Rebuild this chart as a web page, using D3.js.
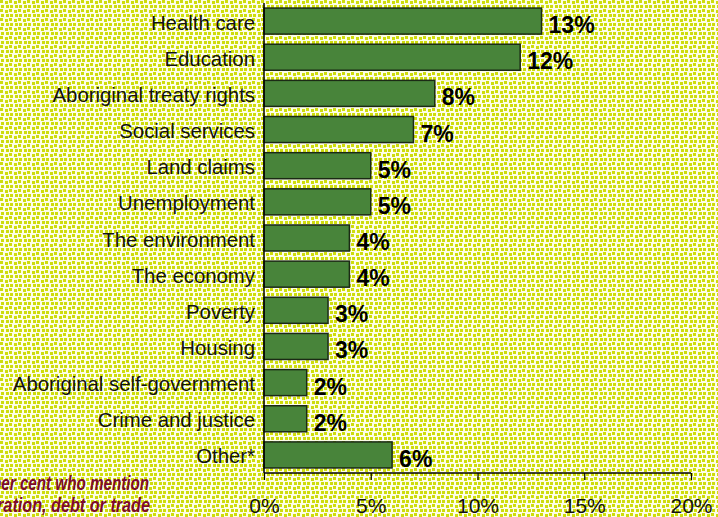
<!DOCTYPE html>
<html>
<head>
<meta charset="utf-8">
<script src="https://cdn.jsdelivr.net/npm/d3@7/dist/d3.min.js"></script>
<style>
  html, body { margin: 0; padding: 0; background: #fff; }
  svg { display: block; }
</style>
</head>
<body>
<div id="chart"></div>
<script>
// Most important issues (per cent mentioning)
const categories = [
  "Health care", "Education", "Aboriginal treaty rights", "Social services",
  "Land claims", "Unemployment", "The environment", "The economy",
  "Poverty", "Housing", "Aboriginal self-government", "Crime and justice", "Other*"
];
const values = [13, 12, 8, 7, 5, 5, 4, 4, 3, 3, 2, 2, 6];
const tickValues = [0, 5, 10, 15, 20];
const footnoteLines = [
  "* Includes per cent who mention",
  "the deficit, immigration, debt or trade"
];

const W = 718, H = 517;
const svg = d3.select("#chart").append("svg")
  .attr("width", W).attr("height", H);

// speckled paper background
const defs = svg.append("defs");
const pat = defs.append("pattern")
  .attr("id", "speckle").attr("patternUnits", "userSpaceOnUse")
  .attr("width", 9).attr("height", 9);
pat.append("rect").attr("width", 9).attr("height", 9).attr("fill", "#fcfde6");
[[0,0],[5,1],[1,5],[6,5]].forEach(([px,py]) => {
  pat.append("rect").attr("x", px).attr("y", py).attr("width", 3).attr("height", 3)
    .attr("fill", "#cedc0c");
});
svg.append("rect").attr("width", W).attr("height", H).attr("fill", "url(#speckle)");

const x = d3.scaleLinear().domain([0, 20]).range([264, 691]);
const y = d3.scaleBand().domain(categories).range([3, 473])
  .paddingInner(0.28).paddingOuter(0.14);

const data = categories.map((c, i) => ({ c, v: values[i] }));

// bars
svg.append("g").selectAll("rect").data(data).join("rect")
  .attr("x", x(0))
  .attr("y", d => y(d.c))
  .attr("width", d => x(d.v) - x(0))
  .attr("height", y.bandwidth())
  .attr("fill", "#48843a")
  .attr("stroke", "#1b2a15")
  .attr("stroke-width", 1.5);

// value labels
svg.append("g").selectAll("text").data(data).join("text")
  .attr("x", d => x(d.v) + 7)
  .attr("y", d => y(d.c) + y.bandwidth() / 2 + 12)
  .attr("font-family", "'Liberation Sans', Arial, sans-serif")
  .attr("font-weight", "bold")
  .attr("font-size", 23)
  .attr("fill", "#000")
  .text(d => d.v + "%");

// category labels
svg.append("g").selectAll("text").data(data).join("text")
  .attr("transform", d => `translate(255,${y(d.c) + y.bandwidth() / 2 + 8.5}) scale(0.97,1)`)
  .attr("text-anchor", "end")
  .attr("font-family", "'Liberation Sans', Arial, sans-serif")
  .attr("font-size", 21)
  .attr("fill", "#111")
  .text(d => d.c);

// x axis
const xAxis = d3.axisBottom(x).tickValues(tickValues)
  .tickFormat(d => d + "%").tickSize(7).tickPadding(0);
const gx = svg.append("g").attr("transform", "translate(0,473)").call(xAxis);
gx.select(".domain").attr("stroke", "#000").attr("stroke-width", 1.5)
  .attr("d", `M${x(0)},0H${x(20)}`);
gx.selectAll(".tick line").attr("stroke", "#000").attr("stroke-width", 1.2);
gx.selectAll(".tick text")
  .attr("y", 40).attr("dy", null)
  .attr("font-family", "'Liberation Sans', Arial, sans-serif")
  .attr("font-size", 21)
  .attr("fill", "#111");

// y axis line
svg.append("line")
  .attr("x1", x(0)).attr("x2", x(0))
  .attr("y1", 3).attr("y2", 473)
  .attr("stroke", "#000").attr("stroke-width", 1.5);

// footnote (runs off the left edge of the panel)
const fnScale = [0.76, 0.81];
const fn = svg.append("g");
footnoteLines.forEach((t, i) => {
  fn.append("text")
    .attr("transform", `translate(${149 + i},${490 + i * 22}) scale(${fnScale[i]},1)`)
    .attr("text-anchor", "end")
    .attr("font-family", "'Liberation Sans', Arial, sans-serif")
    .attr("font-weight", "bold")
    .attr("font-style", "italic")
    .attr("font-size", 20)
    .attr("fill", "#7d0a2c")
    .text(t);
});
</script>
</body>
</html>
